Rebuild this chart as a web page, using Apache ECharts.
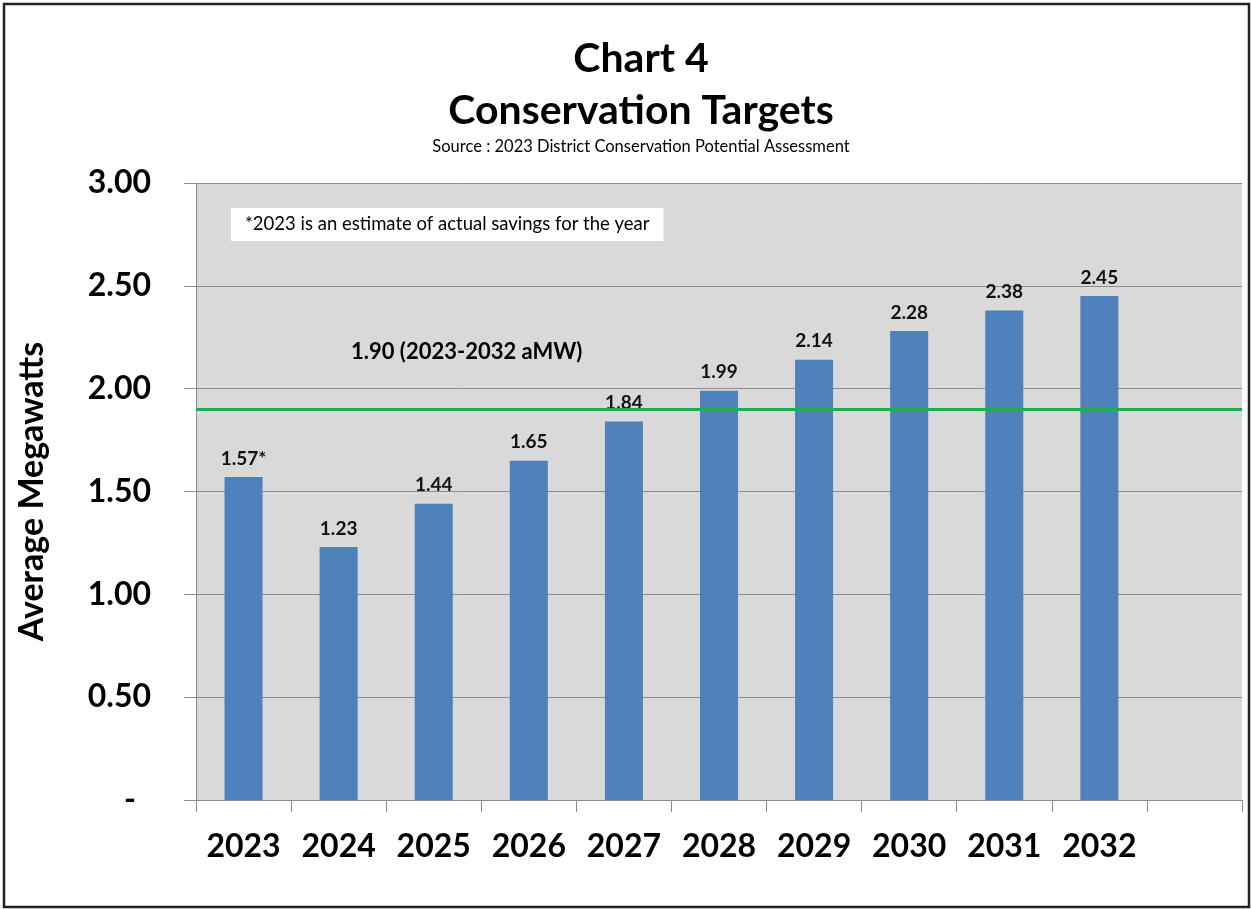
<!DOCTYPE html>
<html>
<head>
<meta charset="utf-8">
<style>
  html, body { margin: 0; padding: 0; background: #ffffff; }
  #chart { width: 1251px; height: 909px; }
</style>
<script src="https://cdn.jsdelivr.net/npm/echarts@6/dist/echarts.min.js"></script>
</head>
<body>
<div id="chart"></div>
<script>
// Conservation targets by year, average megawatts (aMW)
const years = ['2023', '2024', '2025', '2026', '2027', '2028', '2029', '2030', '2031', '2032', ''];
const targets = [1.57, 1.23, 1.44, 1.65, 1.84, 1.99, 2.14, 2.28, 2.38, 2.45];
const labelSuffix = ['*', '', '', '', '', '', '', '', '', ''];
const averageTarget = 1.90;
const yTicks = [0, 0.5, 1.0, 1.5, 2.0, 2.5, 3.0];

const FONT = 'Lato, "Open Sans", sans-serif';
const GRID_GRAY = '#8c8c8c';
const TITLE_X = 641;

const chart = echarts.init(document.getElementById('chart'), null, { renderer: 'canvas' });

chart.setOption({
  backgroundColor: '#ffffff',
  animation: false,
  grid: {
    left: 196, top: 183, right: 9, bottom: 109,
    show: true, backgroundColor: '#d9d9d9', borderWidth: 0
  },
  xAxis: {
    type: 'category',
    data: years,
    boundaryGap: true,
    axisLine: { show: true, lineStyle: { color: GRID_GRAY, width: 1 } },
    axisTick: { show: true, length: 12, alignWithLabel: false, lineStyle: { color: GRID_GRAY } },
    axisLabel: {
      margin: 31, interval: 0,
      fontFamily: FONT, fontSize: 32, fontWeight: 'bold', color: '#000'
    }
  },
  yAxis: {
    type: 'value',
    min: yTicks[0], max: yTicks[yTicks.length - 1], interval: 0.5,
    name: 'Average Megawatts',
    nameLocation: 'middle',
    nameGap: 147,
    nameRotate: 90,
    nameTextStyle: { fontFamily: FONT, fontSize: 34, fontWeight: 'bold', color: '#000' },
    axisLine: { show: true, lineStyle: { color: GRID_GRAY, width: 1 } },
    axisTick: { show: true, length: 12, inside: false, lineStyle: { color: GRID_GRAY } },
    splitLine: { show: true, lineStyle: { color: GRID_GRAY, width: 1 } },
    axisLabel: {
      margin: 45,
      fontFamily: FONT, fontSize: 32, fontWeight: 'bold', color: '#000',
      formatter: v => (v === 0 ? '{dash|-}' : v.toFixed(2)),
      rich: {
        dash: { fontFamily: FONT, fontSize: 32, fontWeight: 'bold', color: '#000', padding: [0, 15, 0, 0] }
      }
    }
  },
  series: [
    {
      type: 'bar',
      data: targets,
      barWidth: '40%',
      itemStyle: { color: '#4f81bd' },
      label: {
        show: true, position: 'top', distance: 9,
        fontFamily: FONT, fontSize: 19, fontWeight: 'bold', color: '#111',
        formatter: p => p.value.toFixed(2) + labelSuffix[p.dataIndex]
      },
      markLine: {
        silent: true,
        symbol: ['none', 'none'],
        lineStyle: { color: '#1fae4f', width: 3, type: 'solid' },
        label: {
          show: true,
          position: 'insideStartTop',
          distance: [155, 46],
          fontFamily: FONT, fontSize: 22, fontWeight: 'bold', color: '#000',
          formatter: p => Number(p.value).toFixed(2) + ' (2023-2032 aMW)'
        },
        data: [{ yAxis: averageTarget }]
      }
    }
  ],
  graphic: [
    {
      type: 'text', x: TITLE_X, y: 59, z: 10,
      style: {
        text: 'Chart 4', align: 'center', verticalAlign: 'middle',
        fontFamily: FONT, fontSize: 41, fontWeight: 'bold', fill: '#000'
      }
    },
    {
      type: 'text', x: TITLE_X, y: 111, z: 10,
      style: {
        text: 'Conservation Targets', align: 'center', verticalAlign: 'middle',
        fontFamily: FONT, fontSize: 41, fontWeight: 'bold', fill: '#000'
      }
    },
    {
      type: 'text', x: TITLE_X, y: 147, z: 10,
      style: {
        text: 'Source : 2023 District Conservation Potential Assessment', align: 'center', verticalAlign: 'middle',
        fontFamily: FONT, fontSize: 16.5, fill: '#000'
      }
    },
    {
      type: 'text',
      left: 231, top: 208,
      z: 10,
      style: {
        text: '*2023 is an estimate of actual savings for the year',
        fontFamily: FONT, fontSize: 18.5, fill: '#000',
        backgroundColor: '#ffffff',
        padding: [7, 14, 7, 14]
      }
    },
    {
      type: 'rect',
      z: 20,
      shape: { x: 4, y: 4, width: 1245, height: 903 },
      style: { fill: null, stroke: '#222', lineWidth: 2.5 }
    }
  ]
});
</script>
</body>
</html>
